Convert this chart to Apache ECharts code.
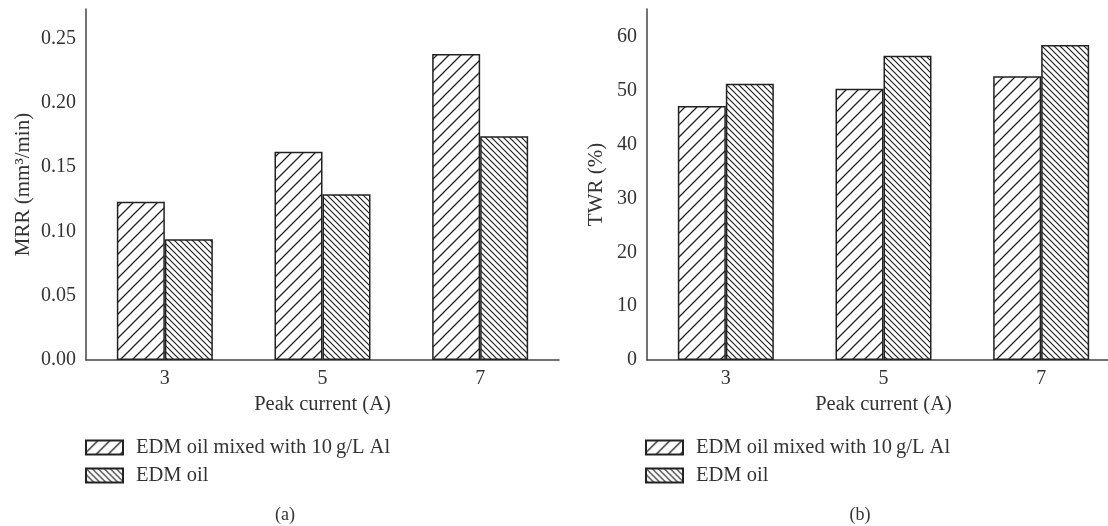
<!DOCTYPE html>
<html>
<head>
<meta charset="utf-8">
<script src="https://cdn.jsdelivr.net/npm/echarts@6/dist/echarts.min.js"></script>
<style>html,body{margin:0;padding:0;background:#fff;overflow:hidden}#c{width:1130px;height:526px}</style>
</head>
<body>
<div id="c"></div>
<script>
const categories = ['3', '5', '7'];
const seriesNames = ['EDM oil mixed with 10\u2009g/L Al', 'EDM oil'];
const mrrMixed = [0.123, 0.162, 0.238];
const mrrOil = [0.094, 0.129, 0.174];
const twrMixed = [47.2, 50.4, 52.7];
const twrOil = [51.3, 56.5, 58.5];
const mrrTicks = ['0.00', '0.05', '0.10', '0.15', '0.20', '0.25'];
const twrTicks = ['0', '10', '20', '30', '40', '50', '60'];

function hatch(size, forward, lw) {
  const c = document.createElement('canvas');
  c.width = size; c.height = size;
  const g = c.getContext('2d');
  g.fillStyle = '#fff'; g.fillRect(0, 0, size, size);
  g.strokeStyle = '#222'; g.lineWidth = lw; g.lineCap = 'square';
  g.beginPath();
  if (forward) {
    g.moveTo(-1, size + 1); g.lineTo(size + 1, -1);
    g.moveTo(-1, 1); g.lineTo(1, -1);
    g.moveTo(size - 1, size + 1); g.lineTo(size + 1, size - 1);
  } else {
    g.moveTo(-1, -1); g.lineTo(size + 1, size + 1);
    g.moveTo(-1, size - 1); g.lineTo(1, size + 1);
    g.moveTo(size - 1, -1); g.lineTo(size + 1, 1);
  }
  g.stroke();
  return c;
}
const patA = { image: hatch(12, true, 1.3), repeat: 'repeat' };
const patB = { image: hatch(6, false, 1.2), repeat: 'repeat' };

const FONT = '"Liberation Serif", "DejaVu Serif", serif';
const TXT = '#333';
const AX = '#444';

function xAxis(gi) {
  return {
    type: 'category', gridIndex: gi, data: categories,
    name: 'Peak current (A)', nameLocation: 'middle', nameGap: 30,
    nameTextStyle: { fontFamily: FONT, fontSize: 20.5, color: TXT },
    axisLine: { lineStyle: { color: AX, width: 1.5 } },
    axisTick: { show: false },
    axisLabel: { fontFamily: FONT, fontSize: 20, color: TXT, margin: 9 }
  };
}
function yAxis(gi, name, max, interval, ticks, gap) {
  return {
    type: 'value', gridIndex: gi, min: 0, max: max, interval: interval,
    name: name, nameLocation: 'middle', nameGap: gap, nameRotate: 90,
    nameTextStyle: { fontFamily: FONT, fontSize: 21, color: TXT },
    axisLine: { show: true, lineStyle: { color: AX, width: 1.5 } },
    axisTick: { show: false },
    splitLine: { show: false },
    axisLabel: {
      fontFamily: FONT, fontSize: 20, color: TXT, margin: 10, showMaxLabel: false,
      formatter: function (v) { const i = Math.round(v / interval); return ticks[i] !== undefined ? ticks[i] : ''; }
    }
  };
}
function bar(name, data, xi, pat) {
  return {
    type: 'bar', name: name, xAxisIndex: xi, yAxisIndex: xi, data: data,
    barWidth: 48, barGap: '0%',
    itemStyle: { color: pat, borderColor: '#222', borderWidth: 1.5 },
    emphasis: { disabled: true }
  };
}
function legend(left) {
  return {
    left: left, top: 437, padding: 0, orient: 'vertical', itemWidth: 37, itemHeight: 14, itemGap: 7,
    icon: 'rect',
    data: seriesNames.slice(),
    textStyle: { fontFamily: FONT, fontSize: 20.5, color: TXT, padding: [0, 0, 0, 8] },
    selectedMode: false
  };
}

const chart = echarts.init(document.getElementById('c'), null, { renderer: 'canvas' });
chart.setOption({
  animation: false,
  backgroundColor: '#fff',
  title: [
    { text: '(a)', left: 280, top: 501, textAlign: 'center', textStyle: { fontFamily: FONT, fontSize: 18, fontWeight: 'normal', color: TXT } },
    { text: '(b)', left: 855, top: 501, textAlign: 'center', textStyle: { fontFamily: FONT, fontSize: 18, fontWeight: 'normal', color: TXT } }
  ],
  legend: [legend(85), legend(645)],
  grid: [
    { left: 86, top: 9, width: 473, height: 351 },
    { left: 647, top: 9, width: 473, height: 351 }
  ],
  xAxis: [xAxis(0), xAxis(1)],
  yAxis: [
    yAxis(0, 'MRR (mm\u00b3/min)', 0.273, 0.05, mrrTicks, 52),
    yAxis(1, 'TWR (%)', 65.2, 10, twrTicks, 40)
  ],
  series: [
    bar(seriesNames[0], mrrMixed, 0, patA),
    bar(seriesNames[1], mrrOil, 0, patB),
    bar(seriesNames[0], twrMixed, 1, patA),
    bar(seriesNames[1], twrOil, 1, patB)
  ]
});
</script>
</body>
</html>
